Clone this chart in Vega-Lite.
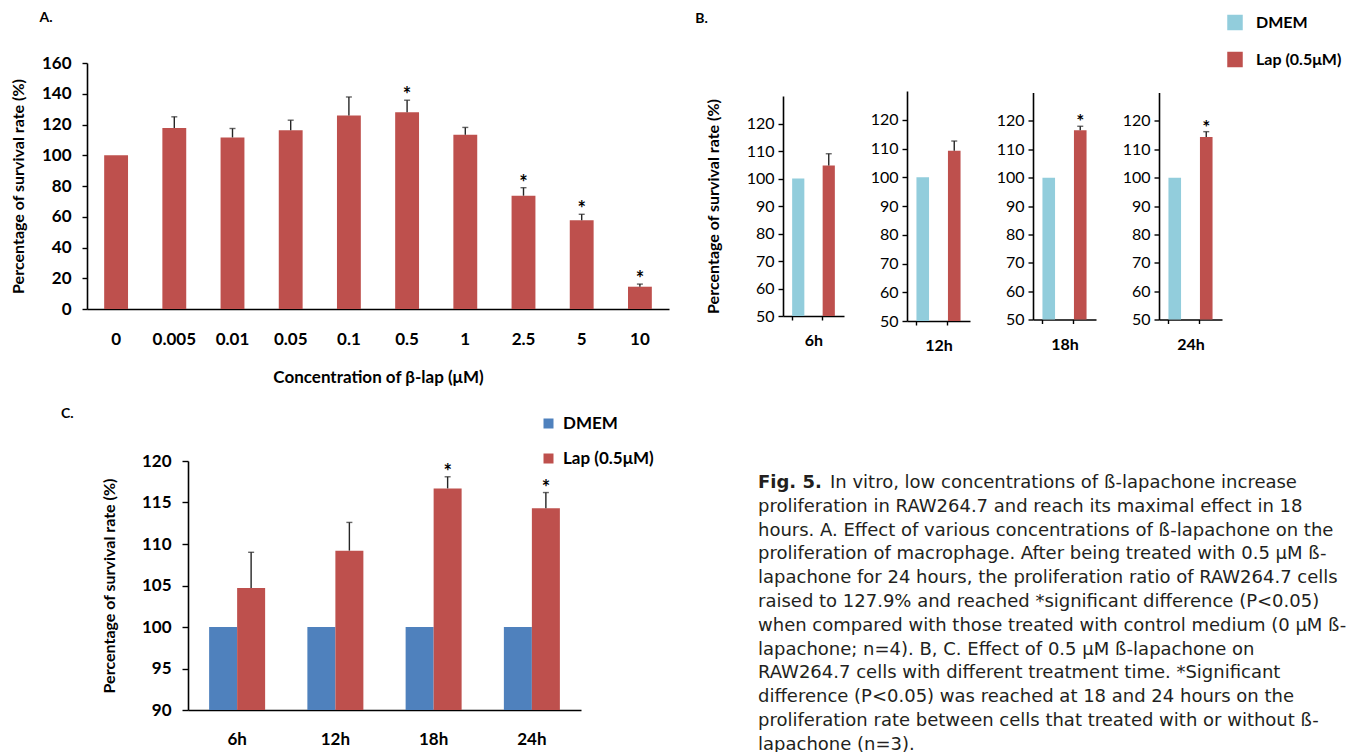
{
  "$schema": "https://vega.github.io/schema/vega-lite/v6.json",
  "padding": {"left": 10, "top": 11, "right": 0, "bottom": 0},
  "background": "white",
  "config": {
    "view": {"stroke": null},
    "font": "Lato",
    "axis": {"grid": false, "domainColor": "#000000", "domainWidth": 1.6, "tickColor": "#000000", "tickWidth": 1.4, "labelColor": "#000000", "titleColor": "#000000", "labelFont": "Lato", "titleFont": "Lato", "labelOverlap": false},
    "title": {"font": "Lato", "color": "#000000"},
    "legend": {"labelFont": "Lato", "labelColor": "#000000"}
  },
  "datasets": {
    "conc": [
      {"conc": "0", "mean": 100, "upper": 100, "sig": ""},
      {"conc": "0.005", "mean": 117.8, "upper": 125, "sig": ""},
      {"conc": "0.01", "mean": 111.6, "upper": 117.4, "sig": ""},
      {"conc": "0.05", "mean": 116.3, "upper": 122.8, "sig": ""},
      {"conc": "0.1", "mean": 125.9, "upper": 137.9, "sig": ""},
      {"conc": "0.5", "mean": 127.9, "upper": 135.8, "sig": "*"},
      {"conc": "1", "mean": 113.3, "upper": 118.1, "sig": ""},
      {"conc": "2.5", "mean": 73.7, "upper": 78.9, "sig": "*"},
      {"conc": "5", "mean": 57.7, "upper": 61.6, "sig": "*"},
      {"conc": "10", "mean": 14.5, "upper": 16.2, "sig": "*"}
    ],
    "time": [
      {"time": "6h", "series": "DMEM", "mean": 100, "upper": 100, "sig": ""},
      {"time": "6h", "series": "Lap (0.5μM)", "mean": 104.7, "upper": 109.0, "sig": ""},
      {"time": "12h", "series": "DMEM", "mean": 100, "upper": 100, "sig": ""},
      {"time": "12h", "series": "Lap (0.5μM)", "mean": 109.2, "upper": 112.6, "sig": ""},
      {"time": "18h", "series": "DMEM", "mean": 100, "upper": 100, "sig": ""},
      {"time": "18h", "series": "Lap (0.5μM)", "mean": 116.7, "upper": 118.1, "sig": "*"},
      {"time": "24h", "series": "DMEM", "mean": 100, "upper": 100, "sig": ""},
      {"time": "24h", "series": "Lap (0.5μM)", "mean": 114.3, "upper": 116.2, "sig": "*"}
    ],
    "caption": [
      {"line": 1, "part": "label", "text": "Fig. 5."},
      {"line": 1, "part": "body", "text": "In vitro, low concentrations of ß-lapachone increase"},
      {"line": 2, "part": "body", "text": "proliferation in RAW264.7 and reach its maximal effect in 18"},
      {"line": 3, "part": "body", "text": "hours. A. Effect of various concentrations of ß-lapachone on the"},
      {"line": 4, "part": "body", "text": "proliferation of macrophage. After being treated with 0.5 μM ß-"},
      {"line": 5, "part": "body", "text": "lapachone for 24 hours, the proliferation ratio of RAW264.7 cells"},
      {"line": 6, "part": "body", "text": "raised to 127.9% and reached *significant difference (P<0.05)"},
      {"line": 7, "part": "body", "text": "when compared with those treated with control medium (0 μM ß-"},
      {"line": 8, "part": "body", "text": "lapachone; n=4). B, C. Effect of 0.5 μM ß-lapachone on"},
      {"line": 9, "part": "body", "text": "RAW264.7 cells with different treatment time. *Significant"},
      {"line": 10, "part": "body", "text": "difference (P<0.05) was reached at 18 and 24 hours on the"},
      {"line": 11, "part": "body", "text": "proliferation rate between cells that treated with or without ß-"},
      {"line": 12, "part": "body", "text": "lapachone (n=3)."}
    ]
  },
  "resolve": {"scale": {"color": "independent"}},
  "spacing": 21,
  "vconcat": [
    {
      "spacing": 26,
      "resolve": {"scale": {"color": "independent"}},
      "hconcat": [
        {
          "width": 582, "height": 246,
          "title": {"text": "A.", "anchor": "start", "fontSize": 14, "fontWeight": "bold", "dx": 29, "offset": 29},
          "data": {"name": "conc"},
          "encoding": {
            "x": {"field": "conc", "type": "nominal", "sort": null, "scale": {"paddingInner": 0.59, "paddingOuter": 0.295},
              "axis": {"title": "Concentration of β-lap (μM)", "labelAngle": 0, "ticks": false, "tickSize": 0, "labelPadding": 22, "labelFontSize": 17, "labelFontWeight": "bold", "titleFontSize": 17, "titleFontWeight": "bold", "titlePadding": 22}}
          },
          "layer": [
            {"mark": {"type": "bar", "color": "#BE504D"},
             "encoding": {"y": {"field": "mean", "type": "quantitative", "title": "Percentage of survival rate (%)", "scale": {"domain": [0, 160]},
               "axis": {"values": [0, 20, 40, 60, 80, 100, 120, 140, 160], "labelOverlap": false, "tickSize": 5, "labelPadding": 11, "labelFontSize": 17, "labelFontWeight": "bold", "titleFontSize": 16, "titleFontWeight": "bold", "titlePadding": 15}}}},
            {"transform": [{"filter": "datum.upper > datum.mean"}],
             "mark": {"type": "rule", "color": "#262626", "strokeWidth": 1.4},
             "encoding": {"y": {"field": "mean", "type": "quantitative", "title": "Percentage of survival rate (%)",
               "axis": {"values": [0, 20, 40, 60, 80, 100, 120, 140, 160], "labelOverlap": false, "tickSize": 5, "labelPadding": 11, "labelFontSize": 17, "labelFontWeight": "bold", "titleFontSize": 16, "titleFontWeight": "bold", "titlePadding": 15}}, "y2": {"field": "upper"}}},
            {"transform": [{"filter": "datum.upper > datum.mean"}],
             "mark": {"type": "tick", "color": "#262626", "thickness": 1.4, "size": 6},
             "encoding": {"y": {"field": "upper", "type": "quantitative", "title": "Percentage of survival rate (%)",
               "axis": {"values": [0, 20, 40, 60, 80, 100, 120, 140, 160], "labelOverlap": false, "tickSize": 5, "labelPadding": 11, "labelFontSize": 17, "labelFontWeight": "bold", "titleFontSize": 16, "titleFontWeight": "bold", "titlePadding": 15}}}},
            {"mark": {"type": "text", "fontSize": 20, "fontWeight": "bold", "baseline": "alphabetic", "dy": 2, "color": "#000000"},
             "encoding": {"y": {"field": "upper", "type": "quantitative", "title": "Percentage of survival rate (%)",
               "axis": {"values": [0, 20, 40, 60, 80, 100, 120, 140, 160], "labelOverlap": false, "tickSize": 5, "labelPadding": 11, "labelFontSize": 17, "labelFontWeight": "bold", "titleFontSize": 16, "titleFontWeight": "bold", "titlePadding": 15}}, "text": {"field": "sig"}}}
          ]
        },
        {
          "bounds": "flush",
          "spacing": 27,
          "resolve": {"scale": {"color": "independent"}},
          "vconcat": [
            {"width": 1, "height": 1, "data": {"values": [{"blank": ""}]}, "mark": {"type": "text"}, "encoding": {"text": {"field": "blank"}}},
            {
              "spacing": 63,
              "bounds": "flush",
              "center": true,
              "resolve": {"scale": {"color": "independent"}},
              "hconcat": [
                {
                  "width": 61, "height": 220,
                  "title": {"text": "B.", "anchor": "start", "fontSize": 14, "fontWeight": "bold", "dx": -10, "offset": 70},
                  "data": {"name": "time"},
                  "transform": [{"filter": "datum.time === '6h'"}],
                  "encoding": {"x": {"field": "series", "type": "nominal", "sort": null, "scale": {"paddingInner": 0.6, "paddingOuter": 0.3},
                    "axis": {"title": "6h", "labels": false, "tickSize": 4, "bandPosition": 0, "titleFontSize": 16, "titleFontWeight": "bold", "titlePadding": 12}}},
                  "layer": [
                    {"mark": {"type": "bar"},
                     "encoding": {"y": {"field": "mean", "type": "quantitative", "title": "Percentage of survival rate (%)", "scale": {"domain": [50, 125]},
                       "axis": {"values": [50, 60, 70, 80, 90, 100, 110, 120], "labelOverlap": false, "tickSize": 5, "labelPadding": 4, "labelFontSize": 16, "labelFontWeight": "normal", "titleFontSize": 16, "titleFontWeight": "bold", "titlePadding": 25}},
                       "y2": {"datum": 50},
                       "color": {"field": "series", "type": "nominal", "sort": null, "scale": {"range": ["#92CDDC", "#BE504D"]}, "legend": null}}},
                    {"transform": [{"filter": "datum.upper > datum.mean"}],
                     "mark": {"type": "rule", "color": "#262626", "strokeWidth": 1.4},
                     "encoding": {"y": {"field": "mean", "type": "quantitative", "title": "Percentage of survival rate (%)",
                       "axis": {"values": [50, 60, 70, 80, 90, 100, 110, 120], "labelOverlap": false, "tickSize": 5, "labelPadding": 4, "labelFontSize": 16, "labelFontWeight": "normal", "titleFontSize": 16, "titleFontWeight": "bold", "titlePadding": 25}}, "y2": {"field": "upper"}}},
                    {"transform": [{"filter": "datum.upper > datum.mean"}],
                     "mark": {"type": "tick", "color": "#262626", "thickness": 1.4, "size": 6},
                     "encoding": {"y": {"field": "upper", "type": "quantitative", "title": "Percentage of survival rate (%)",
                       "axis": {"values": [50, 60, 70, 80, 90, 100, 110, 120], "labelOverlap": false, "tickSize": 5, "labelPadding": 4, "labelFontSize": 16, "labelFontWeight": "normal", "titleFontSize": 16, "titleFontWeight": "bold", "titlePadding": 25}}}},
                    {"mark": {"type": "text", "fontSize": 19, "fontWeight": "bold", "baseline": "alphabetic", "dy": 2, "color": "#000000"},
                     "encoding": {"y": {"field": "upper", "type": "quantitative", "title": "Percentage of survival rate (%)",
                       "axis": {"values": [50, 60, 70, 80, 90, 100, 110, 120], "labelOverlap": false, "tickSize": 5, "labelPadding": 4, "labelFontSize": 16, "labelFontWeight": "normal", "titleFontSize": 16, "titleFontWeight": "bold", "titlePadding": 25}}, "text": {"field": "sig"}}}
                  ]
                },
                {
                  "width": 63, "height": 230,
                  "data": {"name": "time"},
                  "transform": [{"filter": "datum.time === '12h'"}],
                  "encoding": {"x": {"field": "series", "type": "nominal", "sort": null, "scale": {"paddingInner": 0.6, "paddingOuter": 0.3},
                    "axis": {"title": "12h", "labels": false, "tickSize": 4, "bandPosition": 0, "titleFontSize": 16, "titleFontWeight": "bold", "titlePadding": 12}}},
                  "layer": [
                    {"mark": {"type": "bar"},
                     "encoding": {"y": {"field": "mean", "type": "quantitative", "title": null, "scale": {"domain": [50, 125]},
                       "axis": {"values": [50, 60, 70, 80, 90, 100, 110, 120], "labelOverlap": false, "tickSize": 5, "labelPadding": 4, "labelFontSize": 16, "labelFontWeight": "normal"}},
                       "y2": {"datum": 50},
                       "color": {"field": "series", "type": "nominal", "sort": null, "scale": {"range": ["#92CDDC", "#BE504D"]}, "legend": null}}},
                    {"transform": [{"filter": "datum.upper > datum.mean"}],
                     "mark": {"type": "rule", "color": "#262626", "strokeWidth": 1.4},
                     "encoding": {"y": {"field": "mean", "type": "quantitative", "title": null,
                       "axis": {"values": [50, 60, 70, 80, 90, 100, 110, 120], "labelOverlap": false, "tickSize": 5, "labelPadding": 4, "labelFontSize": 16, "labelFontWeight": "normal"}}, "y2": {"field": "upper"}}},
                    {"transform": [{"filter": "datum.upper > datum.mean"}],
                     "mark": {"type": "tick", "color": "#262626", "thickness": 1.4, "size": 6},
                     "encoding": {"y": {"field": "upper", "type": "quantitative", "title": null,
                       "axis": {"values": [50, 60, 70, 80, 90, 100, 110, 120], "labelOverlap": false, "tickSize": 5, "labelPadding": 4, "labelFontSize": 16, "labelFontWeight": "normal"}}}},
                    {"mark": {"type": "text", "fontSize": 19, "fontWeight": "bold", "baseline": "alphabetic", "dy": 2, "color": "#000000"},
                     "encoding": {"y": {"field": "upper", "type": "quantitative", "title": null,
                       "axis": {"values": [50, 60, 70, 80, 90, 100, 110, 120], "labelOverlap": false, "tickSize": 5, "labelPadding": 4, "labelFontSize": 16, "labelFontWeight": "normal"}}, "text": {"field": "sig"}}}
                  ]
                },
                {
                  "width": 63, "height": 227,
                  "data": {"name": "time"},
                  "transform": [{"filter": "datum.time === '18h'"}],
                  "encoding": {"x": {"field": "series", "type": "nominal", "sort": null, "scale": {"paddingInner": 0.6, "paddingOuter": 0.3},
                    "axis": {"title": "18h", "labels": false, "tickSize": 4, "bandPosition": 0, "titleFontSize": 16, "titleFontWeight": "bold", "titlePadding": 12}}},
                  "layer": [
                    {"mark": {"type": "bar"},
                     "encoding": {"y": {"field": "mean", "type": "quantitative", "title": null, "scale": {"domain": [50, 125]},
                       "axis": {"values": [50, 60, 70, 80, 90, 100, 110, 120], "labelOverlap": false, "tickSize": 5, "labelPadding": 4, "labelFontSize": 16, "labelFontWeight": "normal"}},
                       "y2": {"datum": 50},
                       "color": {"field": "series", "type": "nominal", "sort": null, "scale": {"range": ["#92CDDC", "#BE504D"]}, "legend": null}}},
                    {"transform": [{"filter": "datum.upper > datum.mean"}],
                     "mark": {"type": "rule", "color": "#262626", "strokeWidth": 1.4},
                     "encoding": {"y": {"field": "mean", "type": "quantitative", "title": null,
                       "axis": {"values": [50, 60, 70, 80, 90, 100, 110, 120], "labelOverlap": false, "tickSize": 5, "labelPadding": 4, "labelFontSize": 16, "labelFontWeight": "normal"}}, "y2": {"field": "upper"}}},
                    {"transform": [{"filter": "datum.upper > datum.mean"}],
                     "mark": {"type": "tick", "color": "#262626", "thickness": 1.4, "size": 6},
                     "encoding": {"y": {"field": "upper", "type": "quantitative", "title": null,
                       "axis": {"values": [50, 60, 70, 80, 90, 100, 110, 120], "labelOverlap": false, "tickSize": 5, "labelPadding": 4, "labelFontSize": 16, "labelFontWeight": "normal"}}}},
                    {"mark": {"type": "text", "fontSize": 19, "fontWeight": "bold", "baseline": "alphabetic", "dy": 2, "color": "#000000"},
                     "encoding": {"y": {"field": "upper", "type": "quantitative", "title": null,
                       "axis": {"values": [50, 60, 70, 80, 90, 100, 110, 120], "labelOverlap": false, "tickSize": 5, "labelPadding": 4, "labelFontSize": 16, "labelFontWeight": "normal"}}, "text": {"field": "sig"}}}
                  ]
                },
                {
                  "width": 63, "height": 227,
                  "data": {"name": "time"},
                  "transform": [{"filter": "datum.time === '24h'"}],
                  "encoding": {"x": {"field": "series", "type": "nominal", "sort": null, "scale": {"paddingInner": 0.6, "paddingOuter": 0.3},
                    "axis": {"title": "24h", "labels": false, "tickSize": 4, "bandPosition": 0, "titleFontSize": 16, "titleFontWeight": "bold", "titlePadding": 12}}},
                  "layer": [
                    {"mark": {"type": "bar"},
                     "encoding": {"y": {"field": "mean", "type": "quantitative", "title": null, "scale": {"domain": [50, 125]},
                       "axis": {"values": [50, 60, 70, 80, 90, 100, 110, 120], "labelOverlap": false, "tickSize": 5, "labelPadding": 4, "labelFontSize": 16, "labelFontWeight": "normal"}},
                       "y2": {"datum": 50},
                       "color": {"field": "series", "type": "nominal", "sort": null, "scale": {"range": ["#92CDDC", "#BE504D"]},
                         "legend": {"orient": "none", "legendX": 68, "legendY": -78, "title": null, "symbolType": "square", "symbolSize": 240, "symbolStrokeWidth": 0, "labelFontSize": 16, "labelFontWeight": "bold", "labelOffset": 13, "rowPadding": 21,
                           "encode": {"symbols": {"update": {"fill": {"signal": "datum.value === 'DMEM' ? '#92CDDC' : '#B2222A'"}}}}}}}},
                    {"transform": [{"filter": "datum.upper > datum.mean"}],
                     "mark": {"type": "rule", "color": "#262626", "strokeWidth": 1.4},
                     "encoding": {"y": {"field": "mean", "type": "quantitative", "title": null,
                       "axis": {"values": [50, 60, 70, 80, 90, 100, 110, 120], "labelOverlap": false, "tickSize": 5, "labelPadding": 4, "labelFontSize": 16, "labelFontWeight": "normal"}}, "y2": {"field": "upper"}}},
                    {"transform": [{"filter": "datum.upper > datum.mean"}],
                     "mark": {"type": "tick", "color": "#262626", "thickness": 1.4, "size": 6},
                     "encoding": {"y": {"field": "upper", "type": "quantitative", "title": null,
                       "axis": {"values": [50, 60, 70, 80, 90, 100, 110, 120], "labelOverlap": false, "tickSize": 5, "labelPadding": 4, "labelFontSize": 16, "labelFontWeight": "normal"}}}},
                    {"mark": {"type": "text", "fontSize": 19, "fontWeight": "bold", "baseline": "alphabetic", "dy": 2, "color": "#000000"},
                     "encoding": {"y": {"field": "upper", "type": "quantitative", "title": null,
                       "axis": {"values": [50, 60, 70, 80, 90, 100, 110, 120], "labelOverlap": false, "tickSize": 5, "labelPadding": 4, "labelFontSize": 16, "labelFontWeight": "normal"}}, "text": {"field": "sig"}}}
                  ]
                }
              ]
            }
          ]
        }
      ]
    },
    {
      "spacing": 104,
      "resolve": {"scale": {"color": "independent"}},
      "hconcat": [
        {
          "spacing": 13,
          "resolve": {"scale": {"color": "independent"}},
          "hconcat": [
            {"width": 1, "height": 1,
             "title": {"text": "C.", "anchor": "start", "fontSize": 14, "fontWeight": "bold", "dx": -26, "offset": 35},
             "data": {"values": [{"blank": ""}]}, "mark": {"type": "text"}, "encoding": {"text": {"field": "blank"}}},
            {
              "width": 393, "height": 249,
              "data": {"name": "time"},
              "encoding": {
                "x": {"field": "time", "type": "nominal", "sort": null, "scale": {"paddingInner": 0.43, "paddingOuter": 0.215},
                  "axis": {"title": null, "labelAngle": 0, "ticks": false, "tickSize": 0, "labelPadding": 21, "labelFontSize": 17, "labelFontWeight": "bold"}},
                "xOffset": {"field": "series", "type": "nominal", "sort": null}
              },
              "layer": [
                {"mark": {"type": "bar"},
                 "encoding": {"y": {"field": "mean", "type": "quantitative", "title": "Percentage of survival rate (%)", "scale": {"domain": [90, 120]},
                   "axis": {"values": [90, 95, 100, 105, 110, 115, 120], "labelOverlap": false, "tickSize": 6, "labelPadding": 11, "labelFontSize": 17, "labelFontWeight": "bold", "titleFontSize": 16, "titleFontWeight": "bold", "titlePadding": 24}},
                   "y2": {"datum": 90},
                   "color": {"field": "series", "type": "nominal", "sort": null, "scale": {"range": ["#4F81BD", "#BE504D"]},
                     "legend": {"orient": "none", "legendX": 352, "legendY": -46, "title": null, "symbolType": "square", "symbolSize": 100, "symbolStrokeWidth": 0, "labelFontSize": 17, "labelFontWeight": "bold", "labelOffset": 6, "rowPadding": 17}}}},
                {"transform": [{"filter": "datum.upper > datum.mean"}],
                 "mark": {"type": "rule", "color": "#262626", "strokeWidth": 1.4},
                 "encoding": {"y": {"field": "mean", "type": "quantitative", "title": "Percentage of survival rate (%)",
                   "axis": {"values": [90, 95, 100, 105, 110, 115, 120], "labelOverlap": false, "tickSize": 6, "labelPadding": 11, "labelFontSize": 17, "labelFontWeight": "bold", "titleFontSize": 16, "titleFontWeight": "bold", "titlePadding": 24}}, "y2": {"field": "upper"}}},
                {"transform": [{"filter": "datum.upper > datum.mean"}],
                 "mark": {"type": "tick", "color": "#262626", "thickness": 1.4, "size": 6},
                 "encoding": {"y": {"field": "upper", "type": "quantitative", "title": "Percentage of survival rate (%)",
                   "axis": {"values": [90, 95, 100, 105, 110, 115, 120], "labelOverlap": false, "tickSize": 6, "labelPadding": 11, "labelFontSize": 17, "labelFontWeight": "bold", "titleFontSize": 16, "titleFontWeight": "bold", "titlePadding": 24}}}},
                {"mark": {"type": "text", "fontSize": 20, "fontWeight": "bold", "baseline": "alphabetic", "dy": 2, "color": "#000000"},
                 "encoding": {"y": {"field": "upper", "type": "quantitative", "title": "Percentage of survival rate (%)",
                   "axis": {"values": [90, 95, 100, 105, 110, 115, 120], "labelOverlap": false, "tickSize": 6, "labelPadding": 11, "labelFontSize": 17, "labelFontWeight": "bold", "titleFontSize": 16, "titleFontWeight": "bold", "titlePadding": 24}}, "text": {"field": "sig"}}}
              ]
            }
          ]
        },
        {
          "width": 592, "height": 291,
          "data": {"name": "caption"},
          "encoding": {
            "y": {"field": "line", "type": "quantitative", "scale": {"domain": [0.08, 12.3], "reverse": true}, "axis": null},
            "text": {"field": "text"}
          },
          "layer": [
            {"transform": [{"filter": "datum.part === 'label'"}],
             "mark": {"type": "text", "align": "left", "baseline": "middle", "font": "DejaVu Sans", "fontSize": 18, "fontWeight": "bold", "color": "#231F20"},
             "encoding": {"x": {"value": 0}}},
            {"transform": [{"filter": "datum.part === 'body' && datum.line === 1"}],
             "mark": {"type": "text", "align": "left", "baseline": "middle", "font": "DejaVu Sans", "fontSize": 18, "dx": 72, "color": "#231F20"},
             "encoding": {"x": {"value": 0}}},
            {"transform": [{"filter": "datum.part === 'body' && datum.line > 1"}],
             "mark": {"type": "text", "align": "left", "baseline": "middle", "font": "DejaVu Sans", "fontSize": 18, "color": "#231F20"},
             "encoding": {"x": {"value": 0}}}
          ]
        }
      ]
    }
  ]
}
